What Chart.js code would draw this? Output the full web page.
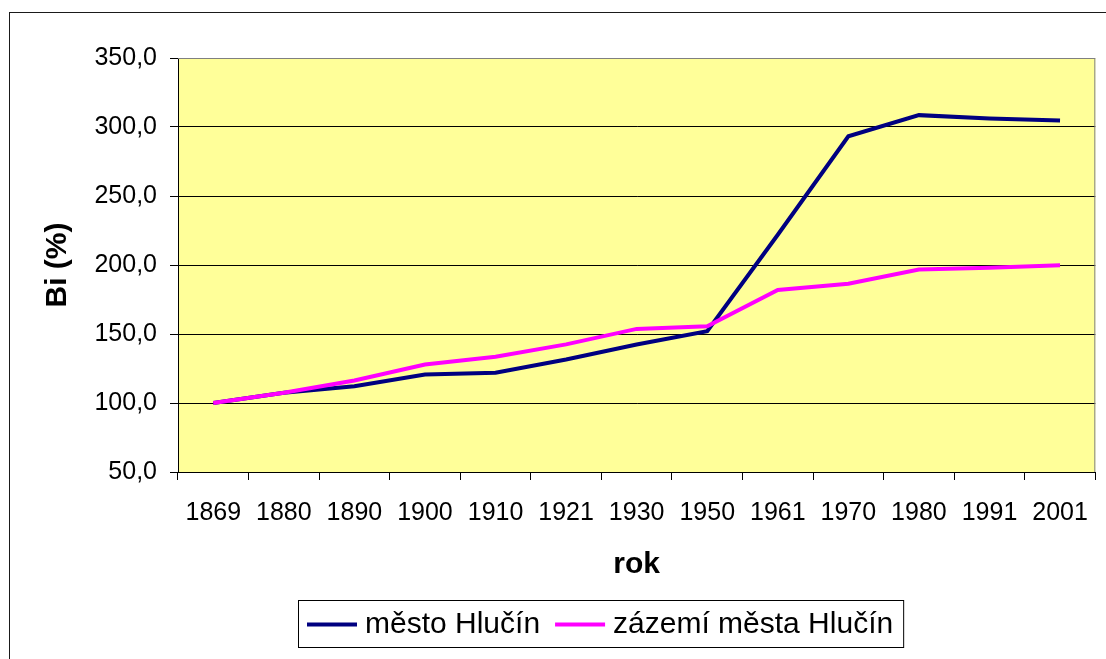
<!DOCTYPE html>
<html>
<head>
<meta charset="utf-8">
<script src="https://cdn.jsdelivr.net/npm/chart.js@4"></script>
<style>
  html, body { margin: 0; padding: 0; background: #fff; }
  #wrap { position: relative; width: 1106px; height: 659px; }
</style>
</head>
<body>
<div id="wrap"><canvas id="chart" width="1106" height="659"></canvas></div>
<script>
// data
const years = ['1869', '1880', '1890', '1900', '1910', '1921', '1930', '1950', '1961', '1970', '1980', '1991', '2001'];
const mestoHlucin = [100.0, 107.4, 112.2, 120.6, 121.9, 131.5, 142.4, 152.0, 221.9, 293.3, 308.6, 306.2, 304.7];
const zazemiHlucin = [100.0, 107.5, 116.3, 127.9, 133.5, 142.5, 153.7, 155.6, 181.9, 186.4, 196.7, 198.0, 199.9];
const seriesLabels = ['město Hlučín', 'zázemí města Hlučín'];
const seriesColors = ['#000080', '#FF00FF'];
const yMin = 50, yMax = 350, yStep = 50;

const fontFamily = '"Liberation Sans", Arial, sans-serif';

// yellow plot area, grey frame, outer chart border and the boxed legend
const excelLook = {
    id: 'excelLook',
    beforeDraw(chart) {
        const { ctx, chartArea: a } = chart;
        ctx.save();
        ctx.fillStyle = '#FFFF99';
        ctx.fillRect(a.left, a.top, a.right - a.left, a.bottom - a.top);
        ctx.restore();
    },
    afterDraw(chart) {
        const { ctx, chartArea: a } = chart;
        ctx.save();
        // grey frame on top and right of the plot
        ctx.strokeStyle = '#808080';
        ctx.lineWidth = 1;
        ctx.beginPath();
        ctx.moveTo(a.left, a.top + 0.5);
        ctx.lineTo(a.right - 0.5, a.top + 0.5);
        ctx.lineTo(a.right - 0.5, a.bottom);
        ctx.stroke();

        // outer chart border (runs off the right and bottom)
        ctx.strokeStyle = '#1a1a1a';
        ctx.strokeRect(9.5, 12.5, 1300, 800);

        // legend
        const boxLeft = 298, boxTop = 600, boxH = 47;
        ctx.font = '30px ' + fontFamily;
        ctx.textBaseline = 'middle';
        ctx.fillStyle = '#000';
        let x = boxLeft + 9;
        const cy = boxTop + boxH / 2;
        const items = [];
        seriesLabels.forEach((label, i) => {
            items.push({ x, label, color: seriesColors[i] });
            x += 50 + 8 + ctx.measureText(label).width + 15;
        });
        const boxW = x - 15 + 10 - boxLeft;
        ctx.fillStyle = '#fff';
        ctx.fillRect(boxLeft, boxTop, boxW, boxH);
        ctx.strokeStyle = '#000';
        ctx.lineWidth = 1;
        ctx.strokeRect(boxLeft + 0.5, boxTop + 0.5, boxW, boxH);
        items.forEach(it => {
            ctx.strokeStyle = it.color;
            ctx.lineWidth = 4;
            ctx.beginPath();
            ctx.moveTo(it.x, cy + 1);
            ctx.lineTo(it.x + 50, cy + 1);
            ctx.stroke();
            ctx.fillStyle = '#000';
            ctx.fillText(it.label, it.x + 58, cy + 1);
        });
        ctx.restore();
    }
};

const ctx = document.getElementById('chart').getContext('2d');
const hlucinChart = new Chart(ctx, {
    type: 'line',
    data: {
        labels: years,
        datasets: [{
            label: seriesLabels[0],
            data: mestoHlucin,
            borderColor: seriesColors[0],
            backgroundColor: seriesColors[0],
            borderWidth: 4,
            pointRadius: 0,
            tension: 0,
            order: 1
        }, {
            label: seriesLabels[1],
            data: zazemiHlucin,
            borderColor: seriesColors[1],
            backgroundColor: seriesColors[1],
            borderWidth: 4,
            pointRadius: 0,
            tension: 0,
            order: 0 // magenta sits on top
        }]
    },
    options: {
        responsive: false,
        animation: false,
        events: [],
        layout: { padding: { left: 0, right: 4, top: 58, bottom: 0 } },
        plugins: {
            legend: { display: false },
            tooltip: { enabled: false }
        },
        scales: {
            x: {
                offset: true,
                afterFit: scale => { scale.height = 187; },
                grid: {
                    offset: true,
                    drawOnChartArea: false,
                    drawTicks: true,
                    tickLength: 8,
                    tickColor: '#000'
                },
                border: { color: '#000', width: 1 },
                ticks: {
                    color: '#000',
                    padding: 18,
                    maxRotation: 0,
                    autoSkip: false,
                    font: { family: fontFamily, size: 25 }
                },
                title: {
                    display: true,
                    text: 'rok',
                    color: '#000',
                    font: { family: fontFamily, size: 30, weight: 'bold' },
                    padding: { top: 0, bottom: 76 }
                }
            },
            y: {
                min: yMin,
                max: yMax,
                afterFit: scale => { scale.width = 178; },
                grid: {
                    color: ctx => (ctx.tick && ctx.tick.value === yMax) ? '#808080' : '#000',
                    drawTicks: true,
                    tickLength: 8,
                    tickColor: '#000'
                },
                border: { color: '#000', width: 1 },
                ticks: {
                    stepSize: yStep,
                    color: '#000',
                    padding: 13,
                    font: { family: fontFamily, size: 25 },
                    callback: value => value.toFixed(1).replace('.', ',')
                },
                title: {
                    display: true,
                    text: 'Bi (%)',
                    color: '#000',
                    font: { family: fontFamily, size: 30, weight: 'bold' },
                    padding: { top: 40, bottom: 0 }
                }
            }
        }
    },
    plugins: [excelLook]
});
</script>
</body>
</html>
